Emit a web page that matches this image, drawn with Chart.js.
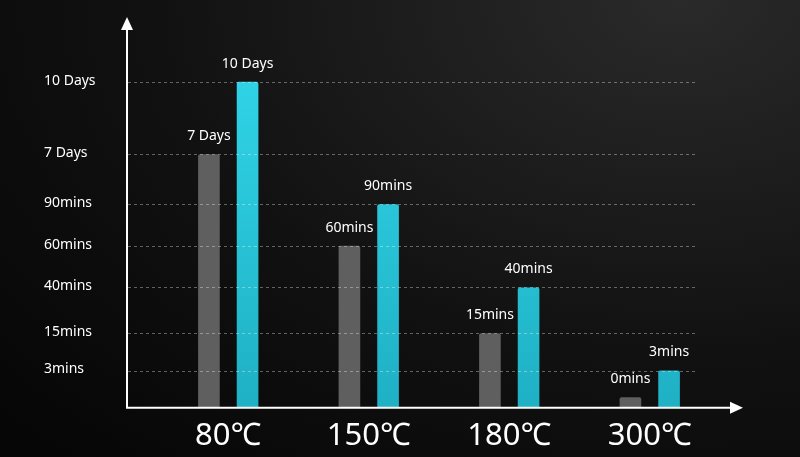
<!DOCTYPE html>
<html><head><meta charset="utf-8">
<script src="https://cdn.jsdelivr.net/npm/chart.js@4/dist/chart.umd.min.js"></script>
<style>
html,body{margin:0;padding:0;}
body{width:800px;height:457px;background:radial-gradient(ellipse at 85% 0%,#2a2a2a 0%,#111 55%,#050505 100%);}
canvas{display:block;}
</style></head>
<body><canvas id="c" width="800" height="457"></canvas>
<script>
const categories = ['80℃', '150℃', '180℃', '300℃'];
// y axis is a ranked (non-linear) scale: each label sits at its own level
const tickLabels = ['3mins', '15mins', '40mins', '60mins', '90mins', '7 Days', '10 Days'];
const tickLevels = [35, 70, 113, 152, 191, 238, 306];
const grayLabels = ['7 Days', '60mins', '15mins', '0mins'];
const cyanLabels = ['10 Days', '90mins', '40mins', '3mins'];

function level(label) {
  if (label == '0mins') return 10;
  return tickLevels[tickLabels.indexOf(label)];
}

const overlay = {
  id: 'overlay',
  afterDraw(chart) {
    const ctx = chart.ctx;
    const y = chart.scales.y;
    const base = y.getPixelForValue(0);
    ctx.save();
    ctx.strokeStyle = 'rgba(255,255,255,0.35)';
    ctx.setLineDash([3, 3]);
    ctx.lineWidth = 1;
    tickLevels.forEach(v => {
      const py = Math.round(y.getPixelForValue(v)) + 0.5;
      ctx.beginPath(); ctx.moveTo(128, py); ctx.lineTo(695, py); ctx.stroke();
    });
    ctx.setLineDash([]);
    ctx.strokeStyle = '#fff'; ctx.fillStyle = '#fff'; ctx.lineWidth = 2;
    ctx.beginPath(); ctx.moveTo(127, 24); ctx.lineTo(127, base); ctx.lineTo(736, base); ctx.stroke();
    ctx.beginPath(); ctx.moveTo(127, 17); ctx.lineTo(121, 30); ctx.lineTo(133, 30); ctx.fill();
    ctx.beginPath(); ctx.moveTo(743, base); ctx.lineTo(730, base - 6); ctx.lineTo(730, base + 6); ctx.fill();
    ctx.font = '14px "Noto Sans", sans-serif';
    ctx.textAlign = 'left'; ctx.textBaseline = 'middle';
    tickLabels.forEach((t, i) => ctx.fillText(t, 44, y.getPixelForValue(tickLevels[i]) - 1));
    ctx.textAlign = 'center'; ctx.textBaseline = 'bottom';
    [grayLabels, cyanLabels].forEach((labels, di) => {
      chart.getDatasetMeta(di).data.forEach((bar, i) => {
        ctx.fillText(labels[i], bar.x, bar.y - 11);
      });
    });
    ctx.restore();
  }
};

new Chart(document.getElementById('c'), {
  type: 'bar',
  data: {
    labels: categories,
    datasets: [
      { data: grayLabels.map(level), backgroundColor: '#5f5f5f', borderRadius: 2 },
      {
        data: cyanLabels.map(level), borderRadius: 2,
        backgroundColor: (c) => {
          const a = c.chart.chartArea;
          if (!a) return '#2fd3e6';
          const g = c.chart.ctx.createLinearGradient(0, a.top, 0, a.bottom);
          g.addColorStop(0, '#33d9ec'); g.addColorStop(1, '#1fb0c4');
          return g;
        }
      }
    ]
  },
  options: {
    responsive: false,
    animation: false,
    layout: { padding: { left: 158, right: 80, top: 20, bottom: 0 } },
    plugins: { legend: { display: false }, tooltip: { enabled: false } },
    datasets: { bar: { categoryPercentage: 0.55, barPercentage: 0.56 } },
    scales: {
      x: {
        grid: { display: false }, border: { display: false },
        ticks: { color: '#fff', font: { size: 31, family: '"Noto Sans", sans-serif' }, padding: 2 }
      },
      y: { min: 0, max: 364, display: false }
    }
  },
  plugins: [overlay]
});
</script>
</body></html>
